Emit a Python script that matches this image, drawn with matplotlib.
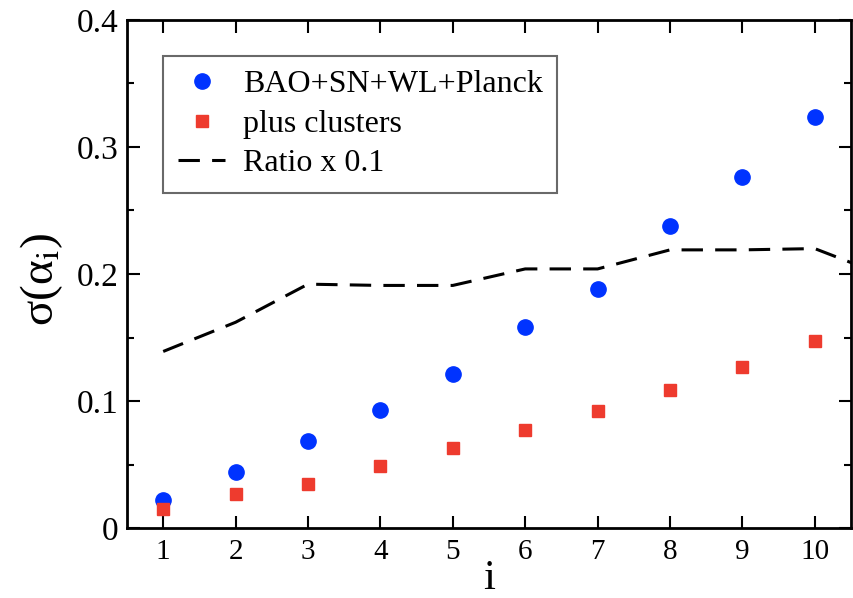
import numpy as np
import matplotlib
matplotlib.use("Agg")
import matplotlib.pyplot as plt
from matplotlib.ticker import MultipleLocator

# values
idx = [1, 2, 3, 4, 5, 6, 7, 8, 9, 10]
sigma_base = [0.022, 0.044, 0.0685, 0.093, 0.121, 0.158, 0.188, 0.238, 0.276, 0.324]
sigma_clusters = [0.015, 0.027, 0.035, 0.049, 0.063, 0.077, 0.092, 0.109, 0.127, 0.147]
ratio_idx = [1, 2, 3, 4, 5, 6, 7, 8, 9, 10, 11]
ratio = [0.139, 0.162, 0.192, 0.191, 0.191, 0.204, 0.204, 0.219, 0.219, 0.220, 0.198]
yticks = [0, 0.1, 0.2, 0.3, 0.4]
ytick_labels = ['0', '0.1', '0.2', '0.3', '0.4']

plt.rcParams['font.family'] = ['Liberation Serif', 'DejaVu Serif']
plt.rcParams['mathtext.fontset'] = 'stix'

fig = plt.figure(figsize=(8.54, 5.98), dpi=100)
ax = fig.add_axes([127/854, 70/598, 724/854, 508/598])

ax.plot(idx, sigma_base, 'o', color='#0033ff', ms=11, label='BAO+SN+WL+Planck', zorder=3)
ax.plot(idx, sigma_clusters, 's', color='#ee3b2e', ms=8.5, label='plus clusters', zorder=3)
ax.plot(ratio_idx, ratio, '--', color='black', lw=2.2, dashes=(7, 4), label='Ratio x 0.1')

ax.set_xlim(0.5, 10.5)
ax.set_ylim(0, 0.4)
ax.set_xticks(idx)
ax.set_yticks(yticks, ytick_labels)
ax.yaxis.set_minor_locator(MultipleLocator(0.05))
ax.tick_params(which='both', direction='in', top=True, right=True, width=1.5)
ax.tick_params(which='major', length=9)
ax.tick_params(which='minor', length=5)
ax.tick_params(axis='x', pad=8, labelsize=21)
ax.tick_params(axis='y', pad=6, labelsize=24)
for s in ax.spines.values():
    s.set_linewidth(2)

ax.set_xlabel('i', fontsize=31, labelpad=-4)
ax.set_ylabel('σ(α$_{\\rm i}$)', fontsize=34)
ax.yaxis.set_label_coords(-0.085, 0.49)

leg = ax.legend(loc='upper left', bbox_to_anchor=(0.05, 0.93), fontsize=23, frameon=True,
                fancybox=False, edgecolor='#444444', handlelength=1.5, handletextpad=0.55,
                borderpad=0.45, labelspacing=0.32, borderaxespad=0)
leg.get_frame().set_linewidth(1.5)

fig.savefig('out.png', dpi=100)
